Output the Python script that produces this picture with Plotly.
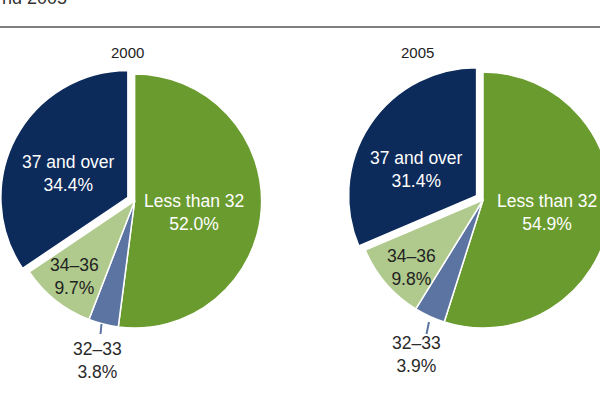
import plotly.graph_objects as go

# ---- data ----
categories = ["Less than 32", "32\u201333", "34\u201336", "37 and over"]
values_2000 = [52.0, 3.8, 9.7, 34.4]
values_2005 = [54.9, 3.9, 9.8, 31.4]
years = ["2000", "2005"]
title_fragment = "nd 2005"

colors = ["#6a9b2f", "#5b74a2", "#b0ca8d", "#0c2a5a"]
text_colors = ["#ffffff", "#2a2a2a", "#222222", "#ffffff"]
pulls = [0, 0, 0, 0.06]

W, H = 620, 400
FONT = "Liberation Sans, Arial, sans-serif"
FS = 17.5


def make_pie(vals, xdom, ydom, name):
    return go.Pie(
        labels=categories,
        values=vals,
        textinfo="none",
        marker=dict(colors=colors, line=dict(color="white", width=1.5)),
        sort=False,
        direction="clockwise",
        rotation=0,
        pull=pulls,
        domain=dict(x=xdom, y=ydom),
        hoverinfo="label+percent",
        name=name,
        showlegend=False,
    )


def dom(cx, cy, r):
    half = r * (1 + max(pulls))
    return ([max(0, (cx - half) / W), min(1, (cx + half) / W)],
            [1 - (cy + half) / H, 1 - (cy - half) / H])

d1 = dom(134.6, 201, 127)
d2 = dom(483, 200, 128)

fig = go.Figure()
fig.add_trace(make_pie(values_2000, d1[0], d1[1], years[0]))
fig.add_trace(make_pie(values_2005, d2[0], d2[1], years[1]))

shapes = [dict(type="line", xref="paper", yref="paper", x0=0, x1=1, y0=1 - 27 / H, y1=1 - 27 / H,
               line=dict(color="#555555", width=1.5))]

# leader lines for the 32-33 slice labels
leaders = [((101.5, 324), (100.5, 334)), ((429, 322), (426.5, 334))]
for (xa, ya), (xb, yb) in leaders:
    shapes.append(dict(type="line", xref="paper", yref="paper",
                       x0=xa / W, x1=xb / W, y0=1 - ya / H, y1=1 - yb / H,
                       line=dict(color=colors[1], width=2)))

# label block centres (pixels)
label_pos = {
    "2000": [(194, 212.5), (98, 360), (74, 276.5), (68, 173)],
    "2005": [(547, 212.5), (416, 354), (411, 267), (416, 169)],
}

annotations = [
    dict(text=years[0], x=127 / W, y=1 - 52 / H, xref="paper", yref="paper",
         xanchor="center", yanchor="middle",
         showarrow=False, font=dict(family=FONT, size=15, color="#222222")),
    dict(text=years[1], x=417 / W, y=1 - 52 / H, xref="paper", yref="paper",
         xanchor="center", yanchor="middle",
         showarrow=False, font=dict(family=FONT, size=15, color="#222222")),
    dict(text=title_fragment, x=0, y=1 - 9.5 / H, xref="paper", yref="paper",
         xanchor="left", yanchor="bottom", showarrow=False,
         font=dict(family=FONT, size=18, color="#333333")),
]
for yr, vals in zip(years, [values_2000, values_2005]):
    for i, (c, v) in enumerate(zip(categories, vals)):
        px, py = label_pos[yr][i]
        annotations.append(dict(
            text=f"{c}<br>{v:.1f}%", x=px / W, y=1 - py / H, xref="paper", yref="paper",
            xanchor="center", yanchor="middle", showarrow=False,
            font=dict(family=FONT, size=FS, color=text_colors[i])))

fig.update_layout(
    width=W, height=H,
    margin=dict(l=0, r=0, t=0, b=0),
    paper_bgcolor="white", plot_bgcolor="white",
    shapes=shapes, annotations=annotations,
    font=dict(family=FONT),
)

fig.write_html("out.html", config={"displayModeBar": False},
               post_script="document.body.style.margin='0';document.body.style.overflow='hidden';document.documentElement.style.overflow='hidden';")
